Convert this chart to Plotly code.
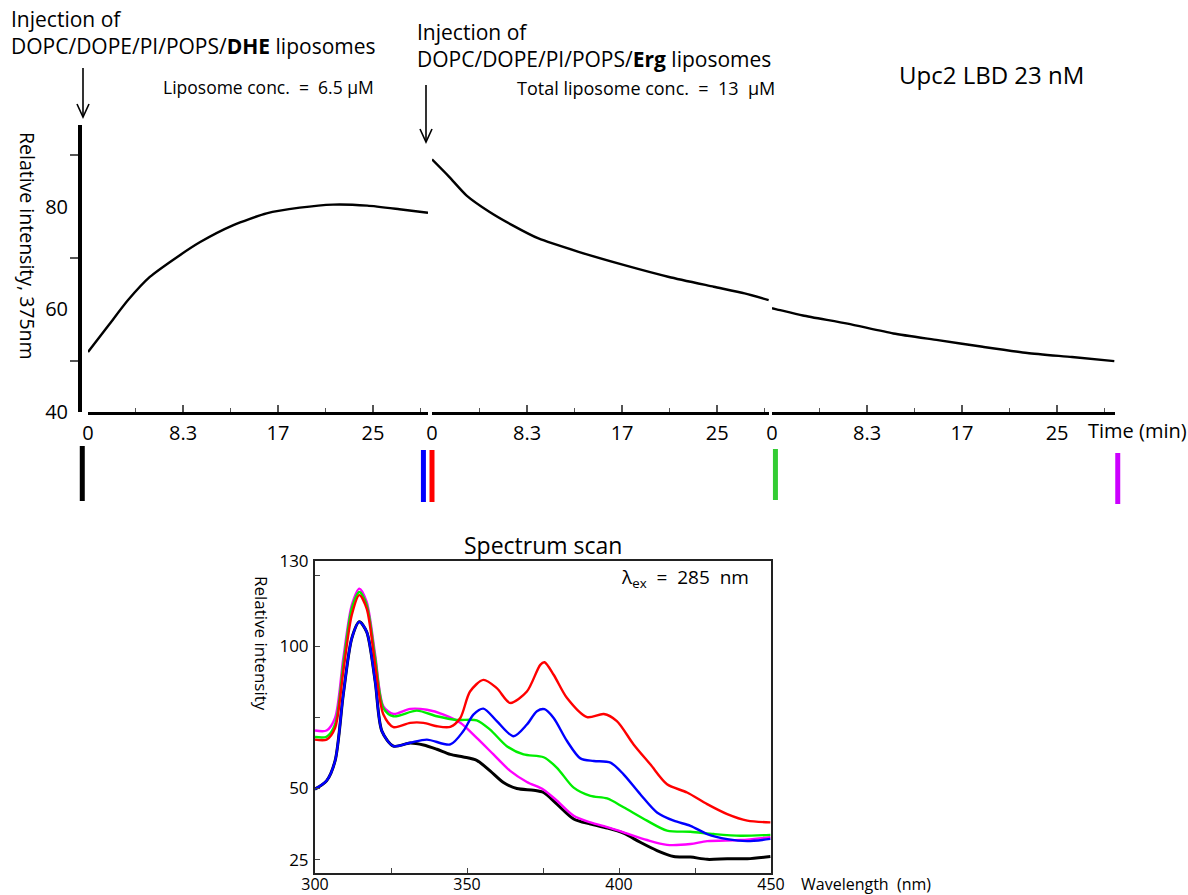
import plotly.graph_objects as go

W, H = 1188, 895
FONT = "Open Sans"

# ---------------- data: kinetic trace (relative intensity at 375 nm) ----------------
seg1_t = [0, 1.9, 3.5, 5.4, 7.8, 9.8, 12.7, 15.6, 18.5, 21.4, 24.4, 27.2, 29.7]
seg1_v = [51.7, 57.2, 61.8, 66.3, 70.2, 73.1, 76.4, 78.7, 79.8, 80.4, 80.2, 79.5, 78.8]

seg2_t = [0, 1.5, 3.0, 5.0, 7.0, 9.3, 12.8, 16.8, 20.7, 24.6, 27.3, 29.4]
seg2_v = [89.2, 85.8, 82.2, 79.0, 76.4, 73.8, 71.2, 68.6, 66.3, 64.4, 63.1, 61.8]

seg3_t = [0, 0.4, 2.7, 6.6, 10.6, 14.5, 18.4, 22.3, 26.2, 29.9]
seg3_v = [60.2, 60.0, 58.8, 57.2, 55.3, 54.0, 52.7, 51.5, 50.7, 49.9]

time_tickvals = [0, 8.3, 16.6, 24.9]
time_ticktext = ["0", "8.3", "17", "25"]
time_minor = [4.15, 12.45, 20.75, 29.05]
int_tickvals = [40, 60, 80]
int_minor = [50, 70, 90]

# time points where spectra were taken (segment index, time, colour)
mark_seg = [0, 0, 1, 2, 2]
mark_time = [-0.5, 29.3, 0.0, 0.3, 30.2]
mark_color = ["#000000", "#0000ff", "#ff0000", "#33cc33", "#cc00ff"]

# ---------------- data: spectrum scan ----------------
wl_black = [300, 303.8, 306.6, 309.3, 312.1, 314.6, 317, 319.8, 322, 325.8, 331.3, 335.7, 340.1, 344.5,
            348.8, 353.2, 357.6, 362, 366.4, 371.9, 375.2, 379.6, 385.1, 390.6, 396.1, 401.5, 407,
            412.5, 418, 423.5, 429, 435.6, 442.2, 449.8]
in_black = [49.8, 52.7, 59.7, 83, 102.8, 108.6, 105.1, 87.6, 70.2, 64.9, 66, 65.3, 63.8, 62,
            61.1, 59.9, 56.2, 52.1, 50, 49.4, 48.6, 44.5, 39.3, 37.5, 36.1, 34.3, 31.1,
            28.2, 26.1, 25.9, 25.1, 25.3, 25.3, 26.1]

wl_blue = [300, 303.8, 306.6, 309.3, 312.1, 314.6, 317, 319.8, 322, 325.8, 331.3, 336.8, 344.5, 348.8,
           352.1, 355.4, 359.8, 365.3, 369.7, 373, 375.5, 378.5, 382.9, 387.3, 391.7, 397.2, 401.5,
           407, 412.5, 418, 423.5, 429, 435.6, 442.2, 449.8]
in_blue = [49.8, 52.7, 59.7, 83, 102.8, 108.6, 105.1, 87.6, 70.2, 64.9, 66.1, 67.2, 65.5, 70.2,
           76, 78.1, 73.7, 68.4, 72.5, 77.2, 77.9, 74.8, 66.7, 60.6, 59.7, 59.1, 55,
           48, 41.6, 38.7, 36.9, 34, 32.2, 31.5, 32.3]

wl_red = [300, 303.8, 306.6, 309.3, 312.1, 314.6, 317, 319.8, 322.5, 325.8, 331.3, 335.7, 340.1, 344.5,
          347.8, 351, 355.4, 359.8, 364.2, 369.7, 374.1, 375.5, 378.5, 382.9, 389.5, 395, 399.3,
          404.8, 410.3, 415.8, 422.4, 429, 435.6, 442.2, 449.8]
in_red = [67.2, 67.2, 71.3, 91.1, 111, 118, 113.3, 93.5, 76, 71.6, 73.1, 73.1, 71.9, 71.7,
          74.8, 84.1, 88.2, 85.3, 80.1, 84.1, 93.5, 94.4, 90, 81.8, 75.1, 76.2, 73.7,
          65.5, 58.5, 51.5, 48.6, 44.5, 41, 38.7, 38.1]

wl_green = [300, 303.8, 306.6, 309.3, 312.1, 314.6, 317, 319.8, 322.5, 325.8, 333.5, 340.1, 346.7, 353.2,
            357.6, 363.1, 368.6, 375.2, 379.6, 385.1, 390.6, 396.1, 401.5, 409.2, 415.8, 423.5,
            431.2, 440, 449.8]
in_green = [68.1, 68.2, 72.5, 93.5, 113.3, 119.1, 114.5, 95.8, 78.3, 75.4, 77.4, 75.4, 74.1, 74,
            70.7, 64.9, 62, 61, 57.3, 50.3, 47.4, 46.5, 43.4, 38.7, 35.2, 34.8,
            34, 33.4, 33.7]

wl_magenta = [300, 303.8, 306.6, 309.3, 312.1, 314.6, 317, 319.8, 322.5, 325.8, 331.3, 336.8, 342.3, 347.8,
              353.2, 358.7, 364.2, 369.7, 375.2, 379.6, 385.1, 390.6, 396.1, 401.5, 409.2, 415.8,
              423.5, 429, 440, 449.8]
in_magenta = [70.4, 70.4, 74.8, 95.8, 114.5, 120.3, 115.6, 97, 78.9, 76.2, 78, 77.7, 76, 73.1,
              67.8, 62, 56.2, 52.3, 49.6, 45.7, 40.4, 38.1, 36.4, 34.6, 31.9, 30.2,
              30.5, 31.5, 31.9, 32.9]

wl_tickvals = [300, 325, 350, 375, 400, 425, 450]
wl_ticktext = ["300", "", "350", "", "400", "", "450"]
sp_tickvals = [25, 50, 75, 100, 125, 130]
sp_ticktext = ["25", "50", "", "100", "", "130"]


def px(x):
    return x / W


def py(y):
    return 1 - y / H


# time-axis segments: pixel domain and time range
seg_dom = [(88, 428), (432, 769), (772, 1115)]
seg_rng = [(0, 29.7), (0, 29.43), (0, 29.96)]

fig = go.Figure()

# kinetic trace segments
for t, v, xa in [(seg1_t, seg1_v, "x"), (seg2_t, seg2_v, "x2"), (seg3_t, seg3_v, "x3")]:
    fig.add_trace(go.Scatter(x=t, y=v, xaxis=xa, yaxis="y", mode="lines",
                             line=dict(color="black", width=2.4, shape="spline", smoothing=0.6),
                             showlegend=False, hoverinfo="skip"))

# spectra
for wl, iv, col, wdt in [(wl_black, in_black, "#000000", 3),
                         (wl_magenta, in_magenta, "#ff00ff", 2.4),
                         (wl_green, in_green, "#00ee00", 2.4),
                         (wl_red, in_red, "#ff0000", 2.4),
                         (wl_blue, in_blue, "#0000ff", 2.4)]:
    fig.add_trace(go.Scatter(x=wl, y=iv, xaxis="x4", yaxis="y2", mode="lines",
                             line=dict(color=col, width=wdt, shape="spline", smoothing=0.8),
                             showlegend=False, hoverinfo="skip"))

tickfont_top = dict(family=FONT, size=20, color="black")
seg_axis_common = dict(
    anchor="y", showline=True, linewidth=3, linecolor="black", showgrid=False, zeroline=False,
    automargin=False,
    tickmode="array", tickvals=time_tickvals, ticktext=time_ticktext,
    ticks="inside", ticklen=7, tickwidth=1.5, tickcolor="#555555",
    minor=dict(tickmode="array", tickvals=time_minor, ticks="inside", ticklen=4,
               tickwidth=1.2, tickcolor="#555555"),
    tickfont=tickfont_top, ticklabelstandoff=1,
)

axes = {}
for i, key in enumerate(["xaxis", "xaxis2", "xaxis3"]):
    d0, d1 = seg_dom[i]
    axes[key] = dict(domain=[px(d0), px(d1)], range=list(seg_rng[i]), **seg_axis_common)

fig.update_layout(
    width=W, height=H, margin=dict(l=0, r=0, t=0, b=0, pad=0, autoexpand=False),
    paper_bgcolor="white", plot_bgcolor="rgba(0,0,0,0)", showlegend=False,
    font=dict(family=FONT, color="black"),
    yaxis=dict(domain=[py(412), py(125)], range=[40, 95.9], anchor="free", position=px(80),
               automargin=False,
               showline=True, linewidth=4, linecolor="black", showgrid=False, zeroline=False,
               tickmode="array", tickvals=int_tickvals, ticks="",
               minor=dict(tickmode="array", tickvals=int_minor, ticks="outside", ticklen=8,
                          tickwidth=1.5, tickcolor="#555555"),
               tickfont=dict(family=FONT, size=20, color="black"), ticklabelstandoff=6),
    xaxis4=dict(domain=[px(315), px(771)], range=[300, 450], anchor="y2", automargin=False,
                showline=True, mirror=True, linewidth=2, linecolor="#222222",
                showgrid=False, zeroline=False, tickmode="array",
                tickvals=wl_tickvals, ticktext=wl_ticktext, ticks="inside", ticklen=5,
                tickcolor="#444444", tickfont=dict(family=FONT, size=16, color="black"),
                ticklabelstandoff=-4),
    yaxis2=dict(domain=[py(873), py(561)], range=[20.3, 130], anchor="x4", automargin=False,
                showline=True, mirror=True, linewidth=2, linecolor="#222222",
                showgrid=False, zeroline=False, tickmode="array",
                tickvals=sp_tickvals, ticktext=sp_ticktext, ticks="inside", ticklen=5,
                tickcolor="#444444", tickfont=dict(family=FONT, size=17, color="black"),
                ticklabelstandoff=1),
    **axes,
)

# coloured time-point markers below the time axis (placed through each segment's time scale)
mark_y = [(446, 501), (450, 502), (450, 502), (449, 500), (453, 504)]
for s, t, col, (y0, y1) in zip(mark_seg, mark_time, mark_color, mark_y):
    d0, d1 = seg_dom[s]
    r0, r1 = seg_rng[s]
    xp = px(d0 + (t - r0) / (r1 - r0) * (d1 - d0))
    fig.add_shape(type="line", xref="paper", yref="paper", x0=xp, x1=xp, y0=py(y1), y1=py(y0),
                  line=dict(color=col, width=5))


# injection arrows
def arrow(x, ytop, ybot):
    fig.add_shape(type="line", xref="paper", yref="paper", x0=px(x), x1=px(x),
                  y0=py(ybot), y1=py(ytop), line=dict(color="black", width=1.6))
    path = "M {:.5f},{:.5f} L {:.5f},{:.5f} L {:.5f},{:.5f}".format(
        px(x - 6), py(ybot - 13), px(x), py(ybot), px(x + 6), py(ybot - 13))
    fig.add_shape(type="path", xref="paper", yref="paper", path=path,
                  line=dict(color="black", width=1.6))


arrow(83, 68, 117)
arrow(426, 85, 142)


def ann(text, x, y, size, xanchor="left", yanchor="middle", angle=0, align="left"):
    fig.add_annotation(text=text, x=px(x), y=py(y), xref="paper", yref="paper",
                       xanchor=xanchor, yanchor=yanchor, showarrow=False, textangle=angle,
                       align=align, font=dict(family=FONT, size=size, color="black"))


ann("Injection of<br>DOPC/DOPE/PI/POPS/<b>DHE</b> liposomes", 9, 3, 21, yanchor="top")
ann("Liposome conc.  =  6.5 μM", 376, 87, 17.5, xanchor="right")
ann("Injection of<br>DOPC/DOPE/PI/POPS/<b>Erg</b> liposomes", 415, 16, 21, yanchor="top")
ann("Total liposome conc.  =  13  μM", 777, 88, 18, xanchor="right")
ann("Upc2 LBD 23 nM", 897, 75, 24)
ann("Relative intensity, 375nm", 28, 246, 19.5, xanchor="center", angle=90)
ann("Time (min)", 1086, 430, 20)
ann("Spectrum scan", 543, 545, 23, xanchor="center")
ann("λ<sub>ex</sub>  =  285  nm", 751, 578, 19, xanchor="right")
ann("Relative intensity", 262, 643, 17, xanchor="center", angle=90)
ann("Wavelength  (nm)", 799, 884, 16)

fig.write_html("out.html", config={"displayModeBar": False},
               post_script="document.body.style.margin='0px';document.body.style.overflow='hidden';")
